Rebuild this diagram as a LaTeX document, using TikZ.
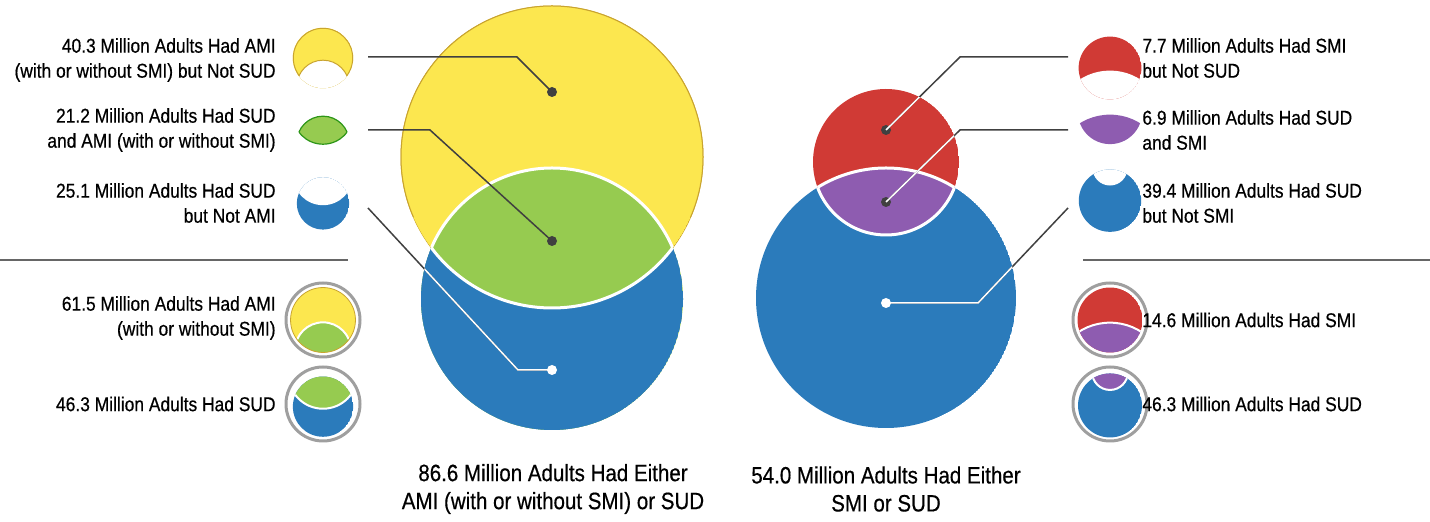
\documentclass[tikz,border=0pt]{standalone}
\usepackage{fontspec}
\setmainfont{Liberation Sans}[FakeStretch=0.87,FakeBold=0.5]
\definecolor{cy}{HTML}{FCE74F}
\definecolor{cyo}{HTML}{C9A42F}
\definecolor{cg}{HTML}{96CB50}
\definecolor{cb}{HTML}{2B7BBB}
\definecolor{cr}{HTML}{D03A35}
\definecolor{cp}{HTML}{8E5CB0}
\definecolor{ln}{HTML}{404040}
% #1 ra, #2 d, #3 rb, #4 colA, #5 colI, #6 colB, #7 sep width
\newcommand\vparts[7]{%
  \begin{scope}\clip (0,0) circle (#1);
    \fill[#4,even odd rule] (0,0) circle (#1) (0,#2) circle (#3);
    \fill[#5] (0,#2) circle (#3);\end{scope}
  \begin{scope}\clip (0,#2) circle (#3);
    \fill[#6,even odd rule] (0,0) circle (#1) (0,#2) circle (#3);\end{scope}
  \begin{scope}\clip (0,0) circle (#1); \draw[white,line width=#7] (0,#2) circle (#3);\end{scope}
  \begin{scope}\clip (0,#2) circle (#3); \draw[white,line width=#7] (0,0) circle (#1);\end{scope}}
\tikzset{lab/.style={font=\fontsize{10}{12.5}\selectfont,inner sep=0pt},
  labl/.style={lab,anchor=east,align=right},
  labr/.style={lab,anchor=west,align=left},
  bot/.style={font=\fontsize{11.8}{14}\selectfont,align=center,inner sep=0pt},
  ring/.style={draw=gray!75,line width=1.5pt},
  lead/.style={draw=ln,line width=0.75pt},
  dot/.style={circle,fill=ln,inner sep=0pt,minimum size=5pt},
  wdot/.style={circle,fill=white,inner sep=0pt,minimum size=5pt}}
\begin{document}
\begin{tikzpicture}[x=0.5pt,y=-0.5pt]
\useasboundingbox (0,0) rectangle (1430,522);
% big left
\begin{scope}[shift={(552,157)}]
  \vparts{151}{142}{131}{cy}{cg}{cb}{1.5pt}
  \begin{scope}\clip (-200,-200) rectangle (200,300);
  \draw[cyo,line width=0.5pt] (0,0) circle (151);
  \fill[cg] (0,142) circle (131);\end{scope}
  \begin{scope}\clip (0,142) circle (131);\fill[cb] (0,0) circle (170);\end{scope}
  \vparts{151}{142}{131}{cy}{cg}{cb}{1.5pt}
  \begin{scope}\clip (-200,-200) rectangle (200,60);\draw[cyo,line width=0.5pt] (0,0) circle (151);\end{scope}
\end{scope}
% big right
\begin{scope}[shift={(886,162)}]
  \vparts{73}{136}{130}{cr}{cp}{cb}{1.5pt}
\end{scope}
% left icons
\begin{scope}[shift={(323,58)},scale=0.2]\clip (0,0) circle (151);
  \fill[cy] (0,0) circle (151); \draw[cyo,line width=1pt] (0,0) circle (151);
  \fill[white] (0,142) circle (131);\draw[cyo,line width=0.5pt] (0,142) circle (131);\end{scope}
\begin{scope}[shift={(323,114)},scale=0.2]\clip (0,0) circle (151);\fill[cg] (0,142) circle (131);
  \draw[green!50!black!70!cg,line width=0.6pt] (0,142) circle (131);\end{scope}
\begin{scope}[shift={(323,114)},scale=0.2]\clip (0,142) circle (131);
  \draw[green!50!black!70!cg,line width=0.6pt] (0,0) circle (151);\end{scope}
\begin{scope}[shift={(323,175)},scale=0.2]\clip (0,142) circle (131);
  \fill[cb] (0,142) circle (131);\fill[white] (0,0) circle (151);\end{scope}
\begin{scope}[shift={(323,320)},scale=0.215]
  \begin{scope}\clip (0,0) circle (151);
  \fill[cy] (0,0) circle (151);\fill[cg] (0,142) circle (131);
  \draw[white,line width=1pt] (0,142) circle (131);\end{scope}
  \draw[cyo,line width=0.4pt] (0,0) circle (151);
\end{scope}
\draw[ring] (323,320) circle (37);
\begin{scope}[shift={(323,374)},scale=0.23]
  \begin{scope}\clip (0,142) circle (131);
  \fill[cb] (0,142) circle (131);\fill[cg] (0,0) circle (151);
  \draw[white,line width=1pt] (0,0) circle (151);\end{scope}
\end{scope}
\draw[ring] (323,404) circle (37);
% right icons
\begin{scope}[shift={(1110,68)},scale=0.43]\clip (0,0) circle (73);
  \fill[cr] (0,0) circle (73);\fill[white] (0,136) circle (130);\end{scope}
\begin{scope}[shift={(1110,112)},scale=0.44]\clip (0,0) circle (73);\fill[cp] (0,136) circle (130);\end{scope}
\begin{scope}[shift={(1110,168)},scale=0.24]\clip (0,136) circle (130);
  \fill[cb] (0,136) circle (130);\fill[white] (0,0) circle (73);\end{scope}
\begin{scope}[shift={(1110,320)},scale=0.445]
  \begin{scope}\clip (0,0) circle (73);
  \fill[cr] (0,0) circle (73);\fill[cp] (0,136) circle (130);
  \draw[white,line width=1pt] (0,136) circle (130);\end{scope}
\end{scope}
\draw[ring] (1110,320) circle (37);
\begin{scope}[shift={(1110,372)},scale=0.246]
  \begin{scope}\clip (0,136) circle (130);
  \fill[cb] (0,136) circle (130);\fill[cp] (0,0) circle (73);
  \draw[white,line width=1pt] (0,0) circle (73);\end{scope}
\end{scope}
\draw[ring] (1110,404) circle (37);
% separators
\draw[gray!80!black,line width=0.6pt] (0,260) -- (348,260);
\draw[gray!80!black,line width=0.6pt] (1083,260) -- (1430,260);
% leaders and dots
\coordinate (l1) at (368,57); \coordinate (l2) at (368,130); \coordinate (l3) at (368,208);
\coordinate (r1) at (1068,57); \coordinate (r2) at (1068,130); \coordinate (r3) at (1068,208);
\node[dot] (dy) at (552,92) {};
\node[dot] (dg) at (552,241) {};
\node[dot] (dr) at (886,130) {};
\node[dot] (dp) at (886,202) {};
\draw[lead] (l1) -- (517,57) -- (dy.center);
\draw[lead] (l2) -- (430,130) -- (dg.center);
\draw[lead] (l3) -- (518,370) -- (552,370);
\begin{scope}\clip (552,299) circle (131);\draw[white,line width=0.75pt] (l3) -- (518,370) -- (552,370);\end{scope}
\draw[lead] (dr.center) -- (960,57) -- (r1);
\draw[lead] (dp.center) -- (960,130) -- (r2);
\draw[lead] (886,303) -- (978,303) -- (r3);
\begin{scope}\clip (886,298) circle (130);\draw[white,line width=0.75pt] (886,303) -- (978,303) -- (r3);\end{scope}
\begin{scope}\clip (886,162) circle (73);\draw[white,line width=0.75pt] (dr.center) -- (960,57);\draw[white,line width=0.75pt] (dp.center) -- (960,130);\end{scope}
\node[wdot] (db) at (552,370) {};
\node[wdot] (db2) at (886,303) {};
% labels
\node[labl] (t1) at (276,60) {40.3 Million Adults Had AMI\\(with or without SMI) but Not SUD};
\node[labl] (t2) at (276,130) {21.2 Million Adults Had SUD\\and AMI (with or without SMI)};
\node[labl] (t3) at (276,203) {25.1 Million Adults Had SUD\\but Not AMI};
\node[labl] (t4) at (276,318) {61.5 Million Adults Had AMI\\(with or without SMI)};
\node[labl] (t5) at (276,404) {46.3 Million Adults Had SUD};
\node[labr] (u1) at (1142,58) {7.7 Million Adults Had SMI\\but Not SUD};
\node[labr] (u2) at (1142,130) {6.9 Million Adults Had SUD\\and SMI};
\node[labr] (u3) at (1142,203) {39.4 Million Adults Had SUD\\but Not SMI};
\node[labr] (u4) at (1142,320) {14.6 Million Adults Had SMI};
\node[labr] (u5) at (1142,404) {46.3 Million Adults Had SUD};
\node[bot] (b1) at (553,489) {86.6 Million Adults Had Either\\AMI (with or without SMI) or SUD};
\node[bot] (b2) at (886,489) {54.0 Million Adults Had Either\\SMI or SUD};
\end{tikzpicture}
\end{document}
